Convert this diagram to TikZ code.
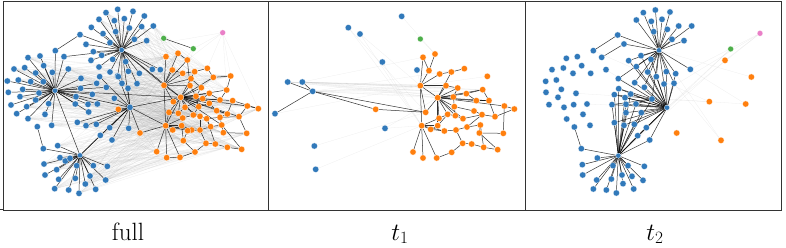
\documentclass[tikz,border=0pt]{standalone}
\usepackage{tikz}
\definecolor{tblue}{HTML}{3179BA}
\definecolor{torange}{HTML}{FF7F0E}
\definecolor{tgreen}{HTML}{4DAF4A}
\definecolor{tpink}{HTML}{E97FC7}
\definecolor{framec}{HTML}{333333}
\pgfdeclarelayer{lay}
\pgfdeclarelayer{day}
\pgfsetlayers{lay,day,main}
\tikzset{
  dotb/.style={circle,fill=tblue,draw=white,line width=0.2pt,inner sep=0pt,minimum size=6.3pt},
  dots/.style={dotb,minimum size=5.2pt},
  doto/.style={circle,fill=torange,draw=white,line width=0.2pt,inner sep=0pt,minimum size=6.3pt},
  dotg/.style={circle,fill=tgreen,draw=white,line width=0.2pt,inner sep=0pt,minimum size=5.8pt},
  dotp/.style={circle,fill=tpink,draw=white,line width=0.2pt,inner sep=0pt,minimum size=5.8pt},
  dedge/.style={black,opacity=0.8,line width=0.5pt},
  ledge/.style={gray!70,opacity=0.18,line width=0.3pt},
  framel/.style={framec,line width=0.9pt},
  lab/.style={font=\fontsize{25}{30}\selectfont,anchor=base,inner sep=0pt}
}
\begin{document}
\begin{tikzpicture}[x=1pt,y=-1pt]
\useasboundingbox (0,0) rectangle (786,248);
% ---------------- frames ----------------
\draw[framel] (3,1.5) rectangle (781,210);
\draw[framel] (268,1.5) -- (268,210);
\draw[framel] (525.5,1.5) -- (525.5,210);
\draw[framel] (0,209.5) -- (3,209.5);
% ---------------- labels ----------------
\node[lab] (lfull) at (128,240) {full};
\node[lab] (lt1) at (400,240) {$t_1$};
\node[lab] (lt2) at (655,240) {$t_2$};

% ================= PANEL 1 =================
\begin{scope}[x=0.33333pt,y=-0.33333pt]
\node[dots] (p1H1) at (365,150) {};
\node[dots] (p1H2) at (165,272) {};
\node[dots] (p1H3) at (240,466) {};
\node[dotb] (p1H4) at (390,322) {};
\node[doto] (p1O1) at (492,256) {};
\node[doto] (p1O2) at (542,292) {};
\node[doto] (p1O3) at (497,377) {};
\node[dotg] (p1g1) at (491,115) {};
\node[dotg] (p1g2) at (580,146) {};
\node[dotp] (p1pk) at (668,98) {};
% orange
\foreach \x/\y [count=\i] in {498/170,534/160,562/180,517/210,548/220,584/215,622/205,640/232,692/228,573/236,604/263,570/257,588/289,628/280,660/300,680/270,698/302,742/318,775/326,717/350,740/400,682/342,650/332,628/310,596/320,580/345,548/354,520/305,507/337,535/340,555/322,600/349,620/356,575/390,545/377,518/390,563/392,600/390,632/380,665/375,670/398,646/432,618/430,585/456,550/422,540/472,500/473,470/455,420/399,355/328,725/448,682/442,608/296,660/352}
  {\node[doto] (p1o\i) at (\x,\y) {};}
% H1 spokes
\foreach \x/\y [count=\i] in {353/28,318/38,399/34,433/48,297/58,343/62,373/56,460/78,274/82,388/84,425/80,347/95,309/101,403/118,440/122,258/133,330/128,280/155,305/166,338/178,377/185,273/181,297/201,330/216,353/228,385/214,418/220,411/251,366/250,457/208,481/209,240/104,192/170}
  {\node[dotb] (p1a\i) at (\x,\y) {};
   \begin{pgfonlayer}{day}\draw[dedge] (p1H1) -- (p1a\i);\end{pgfonlayer}}
% H2 spokes
\foreach \x/\y [count=\i] in {84/173,120/168,42/207,74/203,107/219,131/197,157/217,22/243,55/240,92/245,130/245,25/277,68/268,117/279,60/290,33/315,80/320,107/300,146/311,50/341,84/356,135/343,243/235,242/265,228/290,226/312,264/313,266/336,277/283,292/312,319/262,290/250,205/207,166/152,155/376}
  {\node[dotb] (p1b\i) at (\x,\y) {};
   \begin{pgfonlayer}{day}\draw[dedge] (p1H2) -- (p1b\i);\end{pgfonlayer}}
% H4 spokes
\foreach \x/\y [count=\i] in {343/295,355/230,384/265,299/230,329/383,386/385,301/406,336/420,258/377,232/367,289/373}
  {\node[dotb] (p1c\i) at (\x,\y) {};
   \begin{pgfonlayer}{day}\draw[dedge] (p1H4) -- (p1c\i);\end{pgfonlayer}}
% H3 spokes
\foreach \x/\y [count=\i] in {173/437,180/473,132/492,135/525,170/509,176/538,164/566,206/570,237/580,226/535,256/552,287/568,270/528,280/497,317/540,322/499,230/497,196/483,210/475,130/446}
  {\node[dotb] (p1d\i) at (\x,\y) {};
   \begin{pgfonlayer}{day}\draw[dedge] (p1H3) -- (p1d\i);\end{pgfonlayer}}
\node[dotb] (p1e1) at (112,380) {};
\begin{pgfonlayer}{day}
\draw[dedge] (p1e1) -- (p1d20);
\draw[dedge] (p1a32) -- (p1b34);
\draw[dedge] (p1a33) -- (p1H2);
\draw[dedge] (p1H1) -- (p1H4);
\draw[dedge] (p1H2) -- (p1H4);
\draw[dedge] (p1H3) -- (p1H4);
\draw[dedge] (p1H3) -- (p1H2);
\draw[dedge] (p1H2) -- (p1O2);
\draw[dedge] (p1H1) -- (p1O1);
\draw[dedge] (p1H1) -- (p1O2);
\draw[dedge] (p1H4) -- (p1O3);
\draw[dedge] (p1H4) -- (p1O2);
\draw[dedge] (p1H4) -- (p1o50);
\draw[dedge] (p1H4) -- (p1o49);
\draw[dedge] (p1H3) -- (p1c7);
\draw[dedge] (p1g1) -- (p1g2);
\draw[dedge] (p1O1) -- (p1O3);
\draw[dedge] (p1O1) -- (p1O2);
\draw[dedge] (p1O2) -- (p1O3);
\foreach \j in {1,2,3,4,5,10,12,28} {\draw[dedge] (p1O1) -- (p1o\j);}
\foreach \j in {6,8,11,12,13,14,15,16,17,18,20,24,25,26,28,29,30,31,53,22,40} {\draw[dedge] (p1O2) -- (p1o\j);}
\foreach \j in {27,29,34,35,36,37,46,47,48,49} {\draw[dedge] (p1O3) -- (p1o\j);}
\foreach \a/\b in {18/19,18/20,20/21,21/41,41/40,40/39,39/38,38/37,37/45,45/44,44/43,43/42,42/52,52/51,51/40,22/23,23/24,24/25,25/26,26/27,27/30,30/31,31/53,53/14,14/15,15/16,16/9,9/8,8/7,7/6,6/5,5/4,32/33,33/54,54/22,22/17,32/26,34/35,35/36,46/44,47/46,33/39,32/38,11/13,13/25,10/11,3/12,20/54,40/54,17/19,42/33,45/35,2/3,29/30,31/32,12/13,43/38}
  {\draw[dedge] (p1o\a) -- (p1o\b);}
\end{pgfonlayer}
\begin{pgfonlayer}{lay}
\foreach \i in {1,3,...,35} {\foreach \j in {1,5,9,13,18,22,26,30,34,38,41,45,51} {\draw[ledge] (p1b\i) -- (p1o\j);}}
\foreach \i in {1,3,...,19} {\foreach \j in {2,8,14,19,21,25,29,33,36,40,44,47,52} {\draw[ledge] (p1d\i) -- (p1o\j);}}
\foreach \i in {2,5,...,31} {\foreach \j in {3,7,11,16,20,24,28,32,37,42} {\draw[ledge] (p1a\i) -- (p1o\j);}}
\foreach \i in {1,...,11} {\foreach \j in {6,12,17,23,27,31,39,43,48} {\draw[ledge] (p1c\i) -- (p1o\j);}}
\foreach \j in {3,7,9,16,19} {\draw[ledge] (p1pk) -- (p1o\j);}
\draw[ledge] (p1pk) -- (p1g2);
\draw[ledge] (p1pk) -- (p1H1);
\draw[ledge] (p1g2) -- (p1O1);
\draw[ledge] (p1g2) -- (p1O2);
\draw[ledge] (p1g1) -- (p1H1);
\draw[ledge] (p1g1) -- (p1a8);
\end{pgfonlayer}
\end{scope}

% ================= PANEL 2 =================
\begin{scope}[shift={(265,0)},x=0.33333pt,y=-0.33333pt]
\foreach \x/\y [count=\i] in {410/49,250/83,285/102,352/186,456/210,68/246,112/246,143/274,30/341,360/385,148/438,152/508}
  {\node[dotb] (p2b\i) at (\x,\y) {};}
\node[dotg] (p2g) at (466,117) {};
\foreach \x/\y [count=\i] in {332/328,474/172,510/162,492/212,524/222,559/216,598/206,667/229,466/257,543/257,578/264,653/269,518/293,565/291,604/281,634/302,672/302,718/318,748/327,690/350,715/400,651/344,627/333,568/320,482/337,548/343,571/347,594/356,522/355,470/377,518/377,497/388,538/393,573/390,606/381,646/375,643/399,593/430,620/432,656/442,698/449,560/457,515/474,474/474,444/456}
  {\node[doto] (p2o\i) at (\x,\y) {};}
\begin{pgfonlayer}{day}
\draw[dedge] (p2b6) -- (p2b8);
\draw[dedge] (p2b7) -- (p2b8);
\draw[dedge] (p2b9) -- (p2b8);
\draw[dedge] (p2b8) -- (p2o1);
\draw[dedge] (p2o1) -- (p2o25);
\draw[dedge] (p2b8) -- (p2o25);
\foreach \j in {2,4,5,10,13,30,25} {\draw[dedge] (p2o9) -- (p2o\j);}
\foreach \j in {10,11,14,15,6,16,17,18,24,26,29,31,25,12,28,27} {\draw[dedge] (p2o13) -- (p2o\j);}
\foreach \j in {45,44,43,32,31,29,33} {\draw[dedge] (p2o30) -- (p2o\j);}
\foreach \a/\b in {18/19,18/21,21/37,37/36,36/35,35/34,34/33,33/32,32/31,38/39,39/40,40/41,41/37,42/43,42/38,38/34,22/23,23/24,22/20,20/17,17/16,16/15,15/12,3/4,2/4,6/7,5/6,26/27,27/28,28/22,14/24,10/11,11/14,29/26,31/26,35/22,36/40,19/20,12/17,24/27}
  {\draw[dedge] (p2o\a) -- (p2o\b);}
\end{pgfonlayer}
\begin{pgfonlayer}{lay}
\foreach \i in {6,7,8} {\foreach \j in {9,10,11,14,12,13,15} {\draw[ledge] (p2b\i) -- (p2o\j);}}
\draw[ledge] (p2b9) -- (p2o9);
\draw[ledge] (p2b2) -- (p2o25);
\draw[ledge] (p2b2) -- (p2o30);
\draw[ledge] (p2b3) -- (p2o9);
\draw[ledge] (p2b3) -- (p2o30);
\draw[ledge] (p2b4) -- (p2o30);
\draw[ledge] (p2b1) -- (p2o3);
\draw[ledge] (p2g) -- (p2o3);
\draw[ledge] (p2b5) -- (p2o9);
\draw[ledge] (p2b10) -- (p2o13);
\draw[ledge] (p2b10) -- (p2o30);
\draw[ledge] (p2b11) -- (p2o25);
\draw[ledge] (p2b12) -- (p2o30);
\draw[ledge] (p2o2) -- (p2b7);
\draw[ledge] (p2o8) -- (p2o9);
\draw[ledge] (p2o7) -- (p2b8);
\end{pgfonlayer}
\end{scope}

% ================= PANEL 3 =================
\begin{scope}[shift={(522,0)},x=0.33333pt,y=-0.33333pt]
\node[dots] (p3A) at (411,151) {};
\node[dots] (p3B) at (435,323) {};
\node[dotb] (p3C) at (390,297) {};
\node[dots] (p3D) at (289,467) {};
\node[dotg] (p3g) at (626,147) {};
\node[dotp] (p3pk) at (714,100) {};
\foreach \x/\y [count=\i] in {609/181,688/231,562/305,671/312,464/399,597/421}
  {\node[doto] (p3o\i) at (\x,\y) {};}
% top spokes of A
\foreach \x/\y [count=\i] in {364/38,400/30,444/36,343/60,388/64,420/58,470/78,509/78,395/95,436/88,486/122,450/118,505/208,287/105,306/132}
  {\node[dotb] (p3a\i) at (\x,\y) {};
   \begin{pgfonlayer}{day}\draw[dedge] (p3A) -- (p3a\i);\end{pgfonlayer}}
% middle: to A and B
\foreach \x/\y [count=\i] in {357/167,387/178,320/182,343/200,377/216,403/230,433/215,461/221,426/252,456/250,367/262,338/248,289/236}
  {\node[dotb] (p3m\i) at (\x,\y) {};
   \begin{pgfonlayer}{day}\draw[dedge] (p3A) -- (p3m\i); \draw[dedge] (p3B) -- (p3m\i);\end{pgfonlayer}}
% lower: to B and D
\foreach \x/\y [count=\i] in {290/266,326/282,277/284,309/293,270/314,312/313,342/312,312/338,358/338,277/368,306/376,337/373,373/383,347/407,383/420}
  {\node[dotb] (p3l\i) at (\x,\y) {};
   \begin{pgfonlayer}{day}\draw[dedge] (p3B) -- (p3l\i); \draw[dedge] (p3D) -- (p3l\i);\end{pgfonlayer}}
% spokes of D
\foreach \x/\y [count=\i] in {226/474,181/494,273/497,318/497,367/499,182/525,224/540,268/537,300/525,330/529,363/541,214/567,253/570,283/579,303/551,335/567,178/446}
  {\node[dotb] (p3d\i) at (\x,\y) {};
   \begin{pgfonlayer}{day}\draw[dedge] (p3D) -- (p3d\i);\end{pgfonlayer}}
% isolated cluster
\foreach \x/\y [count=\i] in {166/170,133/175,90/209,124/204,179/197,153/220,206/220,71/244,103/240,118/268,162/280,72/277,108/292,81/314,126/322,155/314,195/312,183/343,134/357,157/381,204/376,214/152,239/172,252/209}
  {\node[dotb] (p3s\i) at (\x,\y) {};}
\begin{pgfonlayer}{day}
\draw[dedge] (p3a14) -- (p3s22);
\draw[dedge] (p3a15) -- (p3s23);
\draw[dedge] (p3d17) -- (p3s20);
\draw[dedge] (p3A) -- (p3C);
\draw[dedge] (p3B) -- (p3C);
\draw[dedge] (p3D) -- (p3C);
\draw[dedge] (p3D) -- (p3B);
\foreach \i in {1,3,5,7} {\draw[dedge] (p3C) -- (p3l\i);}
\end{pgfonlayer}
\begin{pgfonlayer}{lay}
\draw[ledge] (p3pk) -- (p3a13);
\draw[ledge] (p3pk) -- (p3o1);
\draw[ledge] (p3pk) -- (p3B);
\draw[ledge] (p3pk) -- (p3C);
\draw[ledge] (p3g) -- (p3B);
\draw[ledge] (p3g) -- (p3D);
\draw[ledge] (p3o1) -- (p3D);
\draw[ledge] (p3A) -- (p3o2);
\draw[ledge] (p3A) -- (p3o4);
\draw[ledge] (p3s22) -- (p3o3);
\draw[ledge] (p3s11) -- (p3o3);
\draw[ledge] (p3o3) -- (p3o4);
\draw[ledge] (p3m8) -- (p3o6);
\draw[ledge] (p3s24) -- (p3B);
\draw[ledge] (p3s17) -- (p3B);
\draw[ledge] (p3m10) -- (p3o6);
\draw[ledge] (p3C) -- (p3o3);
\end{pgfonlayer}
\end{scope}
\end{tikzpicture}
\end{document}
